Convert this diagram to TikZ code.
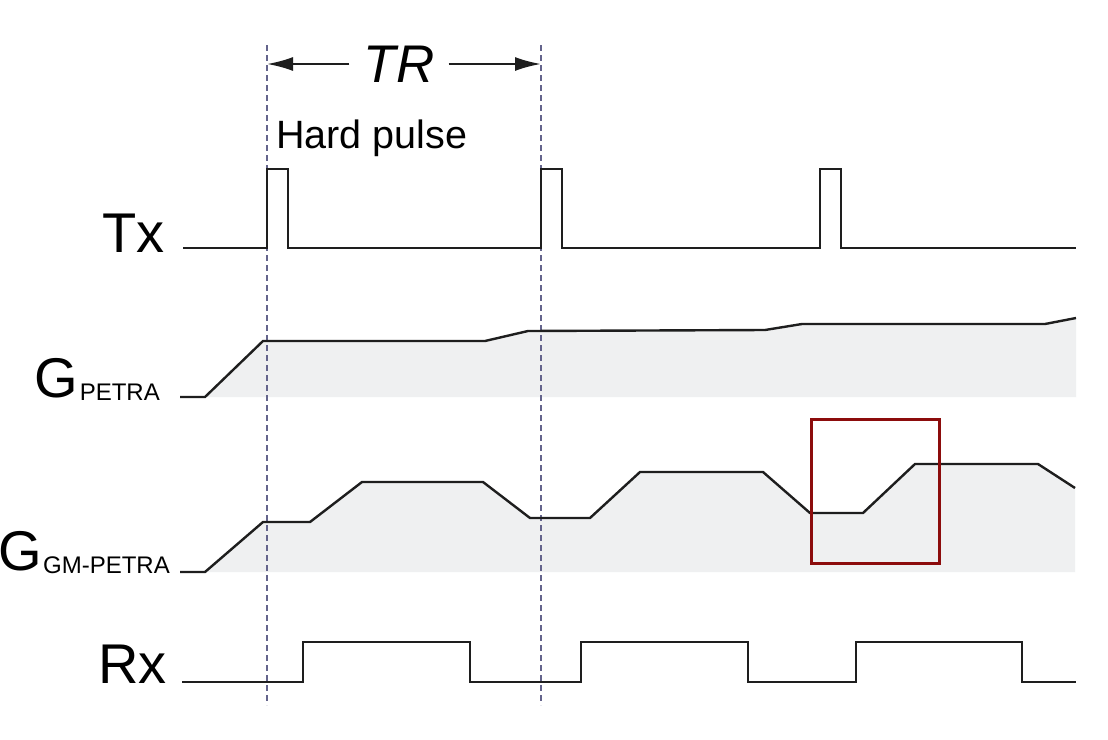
\documentclass[tikz,border=0pt]{standalone}
\usepackage{fontspec}
\setmainfont{Liberation Sans}
\usetikzlibrary{arrows.meta}
\definecolor{sig}{RGB}{30,30,30}
\definecolor{dashc}{RGB}{100,100,140}
\definecolor{shade}{RGB}{239,240,241}
\definecolor{boxred}{RGB}{140,12,12}
\tikzset{
  wave/.style={draw=sig, line width=2.4pt, line join=miter},
  guide/.style={draw=dashc, line width=1.8pt, dash pattern=on 6pt off 4pt},
  area/.style={fill=shade, draw=none},
  biglabel/.style={inner sep=0pt, font=\fontsize{56}{60}\selectfont},
  sublabel/.style={inner sep=0pt, font=\fontsize{24}{28}\selectfont},
  trarrow/.style={draw=sig, line width=2.2pt, -{Latex[length=26pt,width=14pt]}},
  hl/.style={draw=boxred, line width=3pt}
}
\begin{document}
\begin{tikzpicture}[x=1pt,y=-1pt]
\useasboundingbox[fill=white] (0,0) rectangle (1108,739);

% shaded areas under gradients
\fill[area] (205,397) -- (263,341) -- (485,341) -- (528,331) -- (765,330) -- (802,324) -- (1045,324) -- (1076,318) -- (1076,397) -- cycle;
\fill[area] (205,572) -- (263,522) -- (310,522) -- (362,482) -- (483,482) -- (530,518) -- (590,518) -- (640,472) -- (763,472) -- (810,513) -- (863,513) -- (915,464) -- (1038,464) -- (1075,488) -- (1075,572) -- cycle;

% dashed guides
\coordinate (d1t) at (267,45);
\coordinate (d1b) at (267,705);
\coordinate (d2t) at (541,45);
\coordinate (d2b) at (541,705);
\draw[guide] (d1t) -- (d1b);
\draw[guide] (d2t) -- (d2b);

% TR label and arrows
\node (tr) [inner ysep=0pt, inner xsep=14pt, font=\fontsize{53}{57}\selectfont\itshape] at (399,64) {TR};
\draw[trarrow] (tr.west) -- (tr.west -| d1t);
\draw[trarrow] (tr.east) -- (tr.east -| d2t);

\node (hp) [anchor=base west, inner sep=0pt, font=\fontsize{39.5}{44}\selectfont] at (276,148) {Hard pulse};

% row labels
\node (tx) [biglabel, anchor=base east] at (165,252) {Tx};
\node (gps) [sublabel, anchor=base east] at (160,400) {PETRA};
\node (gp) [biglabel, anchor=base east] at ([xshift=-1pt,yshift=3pt]gps.base west) {G};
\node (ggs) [sublabel, anchor=base east] at (170,573) {GM-PETRA};
\node (gg) [biglabel, anchor=base east] at ([xshift=-1pt,yshift=3pt]ggs.base west) {G};
\node (rx) [biglabel, anchor=base east] at (167,683) {Rx};

% Tx
\draw[wave] (183,248) -- (267,248) -- (267,169) -- (288,169) -- (288,248) -- (541,248) -- (541,169) -- (562,169) -- (562,248) -- (820,248) -- (820,169) -- (841,169) -- (841,248) -- (1076,248);

% G PETRA
\draw[wave] (180,397) -- (205,397) -- (263,341) -- (485,341) -- (528,331) -- (765,330) -- (802,324) -- (1045,324) -- (1076,318);

% G GM-PETRA
\draw[wave] (180,572) -- (205,572) -- (263,522) -- (310,522) -- (362,482) -- (483,482) -- (530,518) -- (590,518) -- (640,472) -- (763,472) -- (810,513) -- (863,513) -- (915,464) -- (1038,464) -- (1075,488);

% Rx
\draw[wave] (182,682) -- (303,682) -- (303,642) -- (470,642) -- (470,682) -- (581,682) -- (581,642) -- (748,642) -- (748,682) -- (856,682) -- (856,642) -- (1022,642) -- (1022,682) -- (1076,682);

% highlight box
\node (hlbox) [hl, inner sep=0pt, minimum width=128pt, minimum height=144pt] at (875,491) {};
\end{tikzpicture}
\end{document}
